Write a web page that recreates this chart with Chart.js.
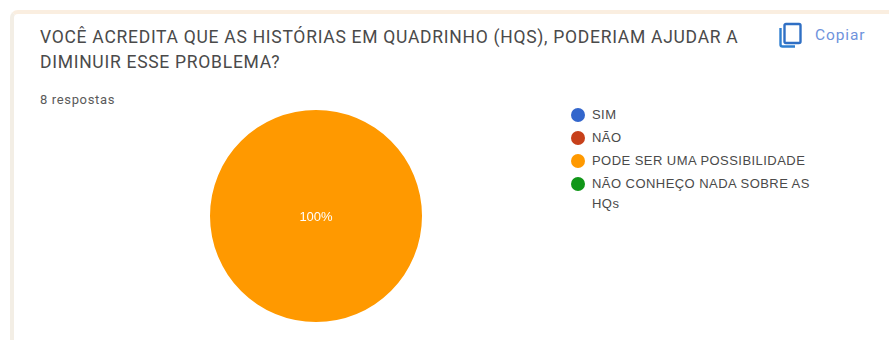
<!DOCTYPE html>
<html lang="pt">
<head>
<meta charset="utf-8">
<title>Respostas</title>
<script src="https://cdn.jsdelivr.net/npm/chart.js@4"></script>
<style>
  html, body { margin: 0; padding: 0; background: #fff; }
  body { width: 889px; height: 340px; position: relative; overflow: hidden; font-family: Roboto, sans-serif; }
  .card { position: absolute; left: 10px; top: 10px; width: 890px; height: 340px; background: #fff;
          border-left: 4px solid #f3eee5; border-top: 4px solid #faeee0; border-top-left-radius: 8px; box-sizing: border-box; }
  .title { position: absolute; left: 40px; top: 25px; width: 715px; font-size: 17.5px; letter-spacing: 0.72px; line-height: 25px; color: #4a4a4a; }
  .count { position: absolute; left: 40px; top: 92px; font-size: 13px; letter-spacing: 0.65px; color: #5a5a5a; }
  .copy { position: absolute; left: 815px; top: 26px; font-size: 15.5px; letter-spacing: 0.9px; line-height: 18px; color: #6f93dc; }
  .icon { position: absolute; left: 778px; top: 22px; }
  .pie { position: absolute; left: 210px; top: 110px; width: 212px; height: 212px; }
  .legend { position: absolute; left: 571px; top: 105px; width: 255px; font: 13px/20px "Liberation Sans", sans-serif; letter-spacing: 0.45px; color: #4a4a4a; }
  .legend div { position: relative; padding-left: 21px; margin-bottom: 3px; }
  .legend i { position: absolute; left: 0; top: 3px; width: 14px; height: 14px; border-radius: 50%; }
</style>
</head>
<body>
<div class="card"></div>
<div class="title">VOCÊ ACREDITA QUE AS HISTÓRIAS EM QUADRINHO (HQS), PODERIAM AJUDAR A DIMINUIR ESSE PROBLEMA?</div>
<div class="count">8 respostas</div>
<svg class="icon" width="25" height="27" viewBox="0 0 25 27" fill="none">
  <path d="M2.5 6v16.5a2 2 0 0 0 2 2H17" stroke="#2f7fd0" stroke-width="2.4"/>
  <rect x="6.5" y="2" width="16" height="19" rx="1.5" stroke="#2f6fc4" stroke-width="2.4"/>
</svg>
<div class="copy">Copiar</div>
<div class="pie"><canvas id="chart"></canvas></div>
<div class="legend" id="legend"></div>

<script>
const categories = ['SIM', 'NÃO', 'PODE SER UMA POSSIBILIDADE', 'NÃO CONHEÇO NADA SOBRE AS HQs'];
const answers = [0, 0, 8, 0];
const colors = ['#3366cc', '#c7401a', '#ff9900', '#109618'];

// percent text on top of each non-empty slice
const sliceLabels = {
  id: 'sliceLabels',
  afterDatasetsDraw(chart) {
    const { ctx } = chart;
    const values = chart.data.datasets[0].data;
    const total = values.reduce((a, b) => a + b, 0);
    chart.getDatasetMeta(0).data.forEach((arc, i) => {
      if (!values[i]) return;
      ctx.save();
      ctx.font = '13px "Liberation Sans", sans-serif';
      ctx.fillStyle = '#fff';
      ctx.textAlign = 'center';
      ctx.textBaseline = 'middle';
      ctx.fillText(Math.round(values[i] / total * 100) + '%', arc.x, arc.y + 1);
      ctx.restore();
    });
  },
};

new Chart(document.getElementById('chart'), {
  type: 'pie',
  data: {
    labels: categories,
    datasets: [{ data: answers, backgroundColor: colors, borderWidth: 0 }],
  },
  options: {
    responsive: true,
    maintainAspectRatio: false,
    animation: false,
    plugins: { legend: { display: false }, tooltip: { enabled: false } },
  },
  plugins: [sliceLabels],
});

const legend = document.getElementById('legend');
categories.forEach((name, i) => {
  const row = document.createElement('div');
  const dot = document.createElement('i');
  dot.style.background = colors[i];
  row.appendChild(dot);
  row.appendChild(document.createTextNode(name));
  legend.appendChild(row);
});
</script>
</body>
</html>
